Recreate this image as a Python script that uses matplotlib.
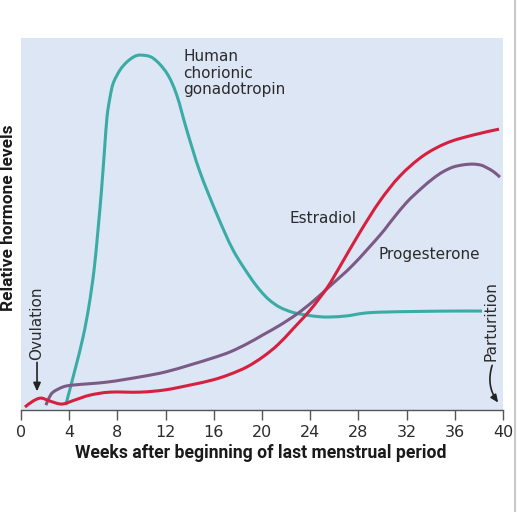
import matplotlib
matplotlib.use("Agg")
import numpy as np
import matplotlib.pyplot as plt
from matplotlib.lines import Line2D
from matplotlib.path import Path
from matplotlib.patches import PathPatch

# ---- data (weeks, relative level 0-100) ----
hcg_weeks = [3.71, 4.48, 5.15, 5.64, 6.06, 6.39, 6.68, 6.93, 7.14, 7.39, 7.66, 8.22, 8.77, 9.40, 9.96,
             10.95, 12.09, 12.92, 13.78, 14.85, 16.27, 17.6, 19.0, 19.83, 20.6, 21.49,
             22.6, 23.73, 24.7, 25.64, 27.05, 28.4, 29.79, 33.0, 36.0, 38.26]
hcg_level = [1.3, 10.8, 19.6, 28.0, 37.6, 48.4, 59.1, 69.9, 78.8, 84.1, 87.9, 91.4, 93.5, 95.0, 95.4,
             94.6, 90.6, 84.7, 75.0, 64.0, 52.5, 43.0, 35.8, 32.2, 29.6, 27.6,
             26.2, 25.5, 25.1, 25.0, 25.3, 26.0, 26.3, 26.5, 26.6, 26.6]

estr_weeks = [0.33, 1.0, 1.66, 2.4, 3.40, 4.48, 5.73, 7.39, 9.88, 11.95, 14.02, 15.93, 17.34, 18.76,
              20.08, 21.3, 22.57, 23.98, 25.39, 26.47, 28.13, 29.79, 31.45, 33.36,
              35.35, 37.5, 39.67]
estr_level = [0.8, 2.4, 3.2, 2.4, 1.6, 2.7, 4.0, 4.8, 4.8, 5.4, 6.7, 8.1, 9.6, 11.6,
              14.3, 17.5, 21.8, 26.8, 32.8, 38.6, 47.8, 56.2, 62.9, 68.3,
              71.8, 73.9, 75.5]

prog_weeks = [2.07, 2.32, 2.66, 3.49, 4.32, 7.14, 9.88, 11.95, 14.02, 15.93, 17.34, 18.76, 20.08,
              21.49, 22.9, 24.23, 25.64, 27.55, 29.79, 30.87, 32.03, 33.2, 34.19, 35.0, 35.85, 36.7,
              37.51, 38.2, 38.67, 39.2, 39.75]
prog_level = [1.3, 3.2, 4.8, 6.2, 6.7, 7.5, 8.9, 10.2, 12.1, 14.0, 15.6, 17.8, 20.2,
              22.8, 25.8, 29.2, 33.3, 39.0, 47.0, 51.4, 55.9, 59.5, 62.2, 64.0, 65.3, 65.9,
              66.1, 65.8, 65.1, 64.1, 62.6]

week_ticks = [0, 4, 8, 12, 16, 20, 24, 28, 32, 36, 40]

c_hcg = "#3aaca5"
c_estr = "#d5203f"
c_prog = "#7c5a86"
bg = "#dce6f4"
txt = "#2b2b2b"

plt.rcParams['font.family'] = ['DejaVu Sans']


def smooth_curve(ax, xs, ys, color, lw=2.2):
    """Draw a smooth line through the data points (Catmull-Rom as cubic Bezier segments)."""
    p = np.column_stack([xs, ys]).astype(float)
    n = len(p)
    verts = [p[0]]
    codes = [Path.MOVETO]
    for i in range(n - 1):
        p0 = p[i - 1] if i > 0 else p[i]
        p1 = p[i]
        p2 = p[i + 1]
        p3 = p[i + 2] if i + 2 < n else p[i + 1]
        c1 = p1 + (p2 - p0) / 6.0
        c2 = p2 - (p3 - p1) / 6.0
        verts += [c1, c2, p2]
        codes += [Path.CURVE4] * 3
    patch = PathPatch(Path(verts, codes), facecolor='none', edgecolor=color, lw=lw,
                      capstyle='butt', joinstyle='round')
    ax.add_patch(patch)


fig = plt.figure(figsize=(5.18, 5.12), dpi=100)
ax = fig.add_axes([21/518, 102/512, 482/518, 372/512])
ax.set_facecolor(bg)
ax.set_xlim(0, 40)
ax.set_ylim(0, 100)

smooth_curve(ax, hcg_weeks, hcg_level, c_hcg)
smooth_curve(ax, prog_weeks, prog_level, c_prog)
smooth_curve(ax, estr_weeks, estr_level, c_estr)

for s in ['top', 'right', 'left']:
    ax.spines[s].set_visible(False)
ax.spines['bottom'].set_color('#555555')
ax.spines['bottom'].set_linewidth(1.0)
ax.set_yticks([])
ax.set_xticks(week_ticks)
ax.set_xticklabels([str(w) for w in week_ticks])
ax.tick_params(axis='x', direction='out', length=7.5, width=1.0, color='#555555',
               labelsize=11.5, labelcolor=txt, pad=3)

fs = 11
ax.text(13.45, 97.0, "Human\nchorionic\ngonadotropin", fontsize=fs, color=txt, va='top', ha='left',
        linespacing=1.12)
ax.text(25.1, 51.6, "Estradiol", fontsize=fs, color=txt, va='center', ha='center')
ax.text(33.9, 41.7, "Progesterone", fontsize=fs, color=txt, va='center', ha='center')

ax.text(1.33, 23.4, "Ovulation", fontsize=fs, color=txt, rotation=90, va='center', ha='center')
ax.annotate("", xy=(1.33, 5.0), xytext=(1.33, 12.8),
            arrowprops=dict(arrowstyle='-|>,head_length=0.5,head_width=0.22', color='#222222', lw=1.2,
                            shrinkA=0, shrinkB=0))
ax.text(39.0, 23.9, "Parturition", fontsize=fs, color=txt, rotation=90, va='center', ha='center')
ax.annotate("", xy=(39.6, 2.0), xytext=(39.1, 12.0),
            arrowprops=dict(arrowstyle='-|>,head_length=0.45,head_width=0.2', color='#222222', lw=1.2,
                            shrinkA=0, shrinkB=0, connectionstyle='arc3,rad=0.25'))

lab_font = ['Roboto', 'DejaVu Sans']
fig.text(261/518, 1 - 453/512, "Weeks after beginning of last menstrual period", fontsize=12.7,
         fontweight='bold', family=lab_font, color='#1a1a1a', ha='center', va='center')
fig.text(9/518, 1 - 218/512, "Relative hormone levels", fontsize=12.4, fontweight='bold',
         family=lab_font, color='#1a1a1a', rotation=90, ha='center', va='center')

fig.add_artist(Line2D([515/518, 515/518], [0, 1], color='#c8c8c8', lw=1.5, transform=fig.transFigure))

fig.savefig("out.png", dpi=100)
